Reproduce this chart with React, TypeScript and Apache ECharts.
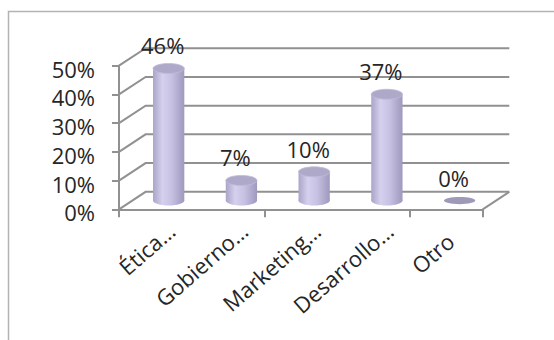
import React, { useEffect, useRef } from 'react';
import * as echarts from 'echarts';

const categories = ['Ética…', 'Gobierno…', 'Marketing…', 'Desarrollo…', 'Otro'];
const values = [46, 7, 10, 37, 0];
const valueLabels = ['46%', '7%', '10%', '37%', '0%'];
const yTicks = [0, 10, 20, 30, 40, 50];

const DX = 26.6;
const DY = -17.5;
const FONT = '"Open Sans", sans-serif';
const FONT_SIZE = 22;
const GRID_COLOR = '#919191';
const TEXT_COLOR = '#262626';

export default function App() {
  const ref = useRef<HTMLDivElement>(null);

  useEffect(() => {
    const chart = echarts.init(ref.current as HTMLDivElement, null, { renderer: 'svg' });

    const bodyGrad = () =>
      new echarts.graphic.LinearGradient(0, 0, 1, 0, [
        { offset: 0, color: '#aaa5c9' },
        { offset: 0.3, color: '#d4d0ed' },
        { offset: 0.6, color: '#c6c1e2' },
        { offset: 1, color: '#9e99bd' },
      ]);

    const labelText = {
      fontFamily: FONT,
      fontSize: FONT_SIZE,
      color: TEXT_COLOR,
    };

    const option: any = {
      animation: false,
      backgroundColor: '#ffffff',
      graphic: [
        {
          type: 'rect',
          silent: true,
          z: -10,
          shape: { x: 8.5, y: 11.5, width: 700, height: 500 },
          style: { fill: 'none', stroke: '#b3b3b3', lineWidth: 1.5 },
        },
      ],
      grid: [
        { left: 119, right: 71.3, top: 65.7, bottom: 130.7, containLabel: false, outerBoundsMode: 'none' },
        { left: 135, right: 55.3, top: 68.7, bottom: 127.7, containLabel: false, outerBoundsMode: 'none' },
      ],
      xAxis: [
        {
          type: 'category',
          gridIndex: 0,
          data: categories,
          axisLine: { show: true, lineStyle: { color: GRID_COLOR, width: 2 } },
          axisTick: { show: true, length: 8, lineStyle: { color: GRID_COLOR, width: 2 } },
          axisLabel: { show: false },
          splitLine: { show: false },
        },
        {
          type: 'category',
          gridIndex: 1,
          data: categories,
          offset: 10.7,
          axisLine: { show: false },
          axisTick: { show: false },
          splitLine: { show: false },
          axisLabel: {
            interval: 0,
            rotate: 41,
            margin: 4,
            ...labelText,
            formatter: (v: string) => (v === 'Otro' ? '{t|' + v + '}{g|\u00a0}' : '{t|' + v + '}'),
            rich: {
              t: { ...labelText },
              g: { width: 16, fontSize: FONT_SIZE, fontFamily: FONT },
            },
          },
        },
      ],
      yAxis: [
        {
          type: 'value',
          gridIndex: 0,
          min: 0,
          max: 50,
          interval: 10,
          axisLine: { show: true, lineStyle: { color: GRID_COLOR, width: 2 } },
          axisTick: { show: true, length: 7, lineStyle: { color: GRID_COLOR, width: 2 } },
          splitLine: { show: false },
          axisLabel: { show: false },
        },
        {
          type: 'value',
          gridIndex: 1,
          min: 0,
          max: 50,
          interval: 10,
          axisLine: { show: false },
          axisTick: { show: false },
          splitLine: { show: false },
          axisLabel: {
            formatter: '{value}%',
            margin: 40,
            ...labelText,
          },
        },
      ],
      series: [
        {
          type: 'custom',
          silent: true,
          xAxisIndex: 0,
          yAxisIndex: 0,
          z: 1,
          data: [[0, 0]],
          encode: { x: 0, y: 1 },
          renderItem: (params: any, api: any) => {
            const cs = params.coordSys;
            const x0 = cs.x;
            const x1 = cs.x + cs.width;
            const children: any[] = yTicks.map((t) => {
              const y = api.coord([0, t])[1];
              return {
                type: 'polyline',
                shape: { points: [[x0, y], [x0 + DX, y + DY], [x1 + DX, y + DY]] },
                style: { stroke: GRID_COLOR, lineWidth: 2, fill: null },
              };
            });
            const y0 = api.coord([0, 0])[1];
            children.push({
              type: 'line',
              shape: { x1: x1, y1: y0, x2: x1 + DX, y2: y0 + DY },
              style: { stroke: GRID_COLOR, lineWidth: 2 },
            });
            return { type: 'group', children };
          },
        },
        {
          type: 'custom',
          silent: true,
          xAxisIndex: 0,
          yAxisIndex: 0,
          z: 2,
          data: values.map((v, i) => [i, v]),
          encode: { x: 0, y: 1 },
          renderItem: (params: any, api: any) => {
            const i = api.value(0);
            const v = api.value(1);
            const base = api.coord([i, 0]);
            const top = api.coord([i, v]);
            const band = api.size([1, 0])[0];
            const w = band * 0.43;
            const rx = w / 2;
            const ry = 5;
            const cx = base[0] + DX / 2;
            const by = base[1] + DY / 2;
            const ty = top[1] + DY / 2;
            const children: any[] = [];
            if (v > 0) {
              children.push({
                type: 'ellipse',
                shape: { cx, cy: by, rx, ry },
                style: { fill: bodyGrad() },
              });
              children.push({
                type: 'rect',
                shape: { x: cx - rx, y: ty, width: w, height: by - ty },
                style: { fill: bodyGrad() },
              });
              children.push({
                type: 'ellipse',
                shape: { cx, cy: ty, rx, ry },
                style: { fill: '#aea9c9', stroke: '#c0bbd9', lineWidth: 0.8 },
              });
            } else {
              children.push({
                type: 'ellipse',
                shape: { cx, cy: by, rx, ry: 3.6 },
                style: { fill: '#9d99b7' },
              });
            }
            children.push({
              type: 'text',
              style: {
                text: valueLabels[i],
                x: cx - 6,
                y: ty - 23,
                align: 'center',
                verticalAlign: 'middle',
                fontFamily: FONT,
                fontSize: FONT_SIZE,
                fill: TEXT_COLOR,
              },
            });
            return { type: 'group', children };
          },
        },
      ],
    };

    chart.setOption(option);
    return () => {
      chart.dispose();
    };
  }, []);

  return (
    <div
      ref={ref}
      style={{ position: 'fixed', left: 0, top: 0, width: 554, height: 340, background: '#fff' }}
    />
  );
}
